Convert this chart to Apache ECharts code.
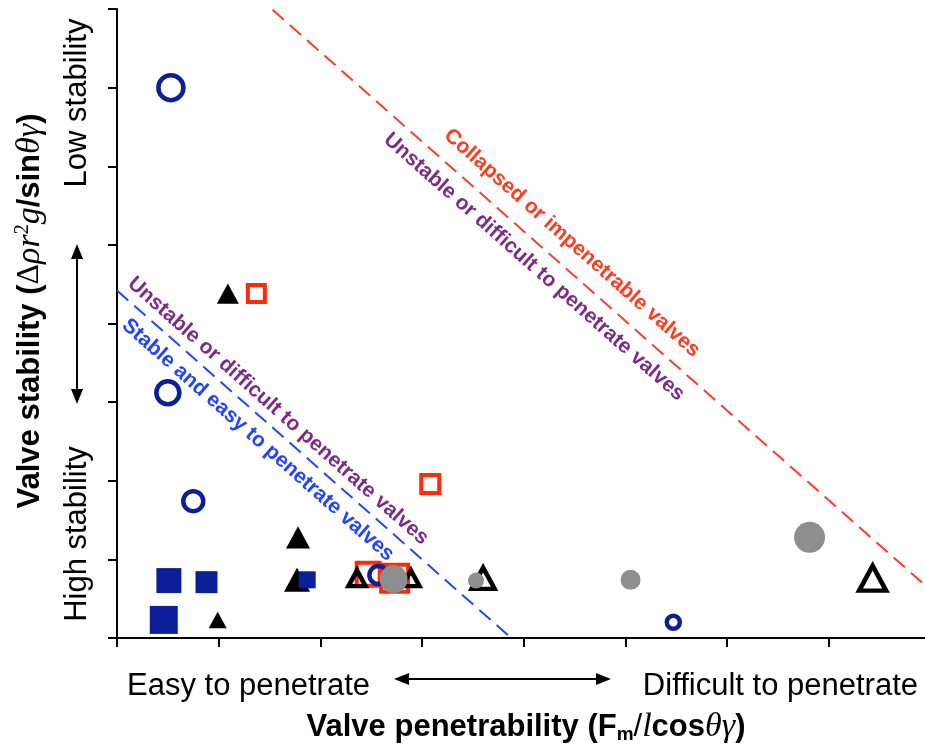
<!DOCTYPE html>
<html>
<head>
<meta charset="utf-8">
<script src="https://cdn.jsdelivr.net/npm/echarts@6/dist/echarts.min.js"></script>
<style>html,body{margin:0;padding:0;background:#fff;}#c{width:925px;height:748px;}</style>
</head>
<body>
<div id="c"></div>
<script>
// ---- data (x = penetrability, y = stability, third value = relative marker size) ----
const blueOpenCircles = [[0.53, 7.00, 25], [0.50, 3.12, 23], [0.75, 1.74, 20], [2.57, 0.80, 18], [5.47, 0.20, 13]];
const blueFilledSquares = [[0.51, 0.73, 25], [0.88, 0.71, 22], [0.46, 0.23, 28], [1.87, 0.74, 17]];
const blackFilledTriangles = [[1.09, 4.38, 22], [1.78, 1.28, 24], [1.77, 0.74, 26], [0.99, 0.23, 18]];
const blackOpenTriangles = [[2.36, 0.76, 17], [2.89, 0.76, 17], [3.60, 0.76, 23], [7.43, 0.76, 27]];
const redOpenSquares = [[1.37, 4.38, 17], [3.08, 1.96, 18], [2.47, 0.81, 23], [2.73, 0.76, 27]];
const grayFilledCircles = [[2.72, 0.75, 28], [3.53, 0.73, 16], [5.05, 0.74, 20], [6.81, 1.28, 31]];
const collapseBoundary = [[1.53, 7.99], [8.00, 0.61]];
const stableBoundary = [[0.00, 4.42], [3.85, 0.03]];
const xAxisTitle = 'Valve penetrability';
const yAxisTitle = 'Valve stability';
const regionLabels = ['Collapsed or impenetrable valves', 'Unstable or difficult to penetrate valves', 'Stable and easy to penetrate valves'];
const xEndLabels = ['Easy to penetrate', 'Difficult to penetrate'];
const yEndLabels = ['Low stability', 'High stability'];

const FONT = "'Liberation Sans', Arial, sans-serif";
const SERIF = "'Liberation Serif', 'DejaVu Serif', serif";
const BLUE = '#0b1f99', RED = '#ff2a08', GRAY = '#8e8e8e';

const chart = echarts.init(document.getElementById('c'), null, {renderer: 'canvas'});

function sq(v) { return v[2]; }
function tri(v) { return [v[2], v[2] * 0.92]; }
function sc(name, data, symbol, sizeFn, itemStyle) {
  return {type: 'scatter', name, data, symbol, symbolSize: sizeFn,
    itemStyle: Object.assign({opacity: 1}, itemStyle),
    silent: true, emphasis: {disabled: true}};
}
function dashed(name, data, color) {
  return {type: 'line', name, data, symbol: 'none', silent: true,
    lineStyle: {color, width: 2, opacity: 1, type: [15, 8]}, emphasis: {disabled: true}};
}
const axisCommon = {
  type: 'value', min: 0, max: 8, interval: 1,
  axisLine: {show: true, lineStyle: {color: '#000', width: 2}},
  axisTick: {show: true, inside: false, length: 9, lineStyle: {color: '#000', width: 2}},
  axisLabel: {show: false}, splitLine: {show: false}
};
const ANG = -41.4 * Math.PI / 180;
function rotLabel(text, x, y, color) {
  return {type: 'text', x, y, rotation: ANG, z: 5,
    style: {text, fill: color, font: 'bold 21px ' + FONT, fontSize: 21, fontWeight: 'bold', fontFamily: FONT,
      align: 'center', verticalAlign: 'middle', textAlign: 'center', textVerticalAlign: 'middle'}};
}
function plainText(text, x, y, align, rotation, bold) {
  return {type: 'text', x, y, rotation: rotation || 0,
    style: {text, fill: '#000', font: (bold ? 'bold ' : '') + '31px ' + FONT, fontSize: 31, fontFamily: FONT,
      fontWeight: bold ? 'bold' : 'normal',
      align, verticalAlign: 'middle', textAlign: align, textVerticalAlign: 'middle'}};
}
const richBase = {
  b: {fontFamily: FONT, fontWeight: 'bold', fontSize: 31, fill: '#000'},
  n: {fontFamily: FONT, fontSize: 31, fill: '#000'},
  d: {fontFamily: SERIF, fontSize: 32, fill: '#000'},
  i: {fontFamily: SERIF, fontStyle: 'italic', fontSize: 34, fill: '#000'},
  sup: {fontFamily: SERIF, fontSize: 20, fill: '#000', verticalAlign: 'top'},
  sub: {fontFamily: FONT, fontWeight: 'bold', fontSize: 19, fill: '#000', verticalAlign: 'bottom'}
};

const option = {
  animation: false,
  backgroundColor: '#fff',
  grid: {left: 117, top: 9, right: -5.6, bottom: 110, containLabel: false, outerBoundsMode: 'none'},
  xAxis: Object.assign({}, axisCommon),
  yAxis: Object.assign({}, axisCommon),
  series: [
    dashed('collapse', collapseBoundary, '#ff3b2b'),
    dashed('stable', stableBoundary, '#2246ff'),
    sc('red', redOpenSquares, 'rect', sq, {color: 'transparent', borderColor: RED, borderWidth: 4}),
    sc('blackFilled', blackFilledTriangles, 'triangle', tri, {color: '#000'}),
    sc('blackOpen', blackOpenTriangles, 'triangle', tri, {color: 'transparent', borderColor: '#000', borderWidth: 4.5}),
    sc('blueSq', blueFilledSquares, 'rect', sq, {color: BLUE}),
    sc('blueCirc', blueOpenCircles, 'circle', sq, {color: 'transparent', borderColor: BLUE, borderWidth: 4.5}),
    sc('gray', grayFilledCircles, 'circle', sq, {color: GRAY})
  ],
  graphic: [
    rotLabel(regionLabels[0], 572, 243, '#ff3b1f'),
    rotLabel(regionLabels[1], 534, 267, '#7a2d86'),
    rotLabel(regionLabels[1], 278, 411, '#7a2d86'),
    rotLabel(regionLabels[2], 258, 440, '#2244ff'),
    plainText(xEndLabels[0], 127, 686, 'left'),
    plainText(xEndLabels[1], 918, 686, 'right'),
    plainText(yEndLabels[0], 77, 103, 'center', Math.PI / 2),
    plainText(yEndLabels[1], 77, 534, 'center', Math.PI / 2),
    {type: 'text', x: 30, y: 311, rotation: Math.PI / 2,
      style: {text: '{b|' + yAxisTitle + ' (}{d|Δ}{i|ρr}{sup|2}{i|g}{b|/sin}{i|θγ}{b|)}', rich: richBase,
        align: 'center', verticalAlign: 'middle', textAlign: 'center', textVerticalAlign: 'middle'}},
    {type: 'text', x: 526, y: 727,
      style: {text: '{b|' + xAxisTitle + ' (F}{sub|m}{n|/}{i|l}{b|cos}{i|θγ}{b|)}', rich: richBase,
        align: 'center', verticalAlign: 'middle', textAlign: 'center', textVerticalAlign: 'middle'}},
    // vertical double arrow
    {type: 'line', shape: {x1: 77, y1: 256, x2: 77, y2: 392}, style: {stroke: '#000', lineWidth: 2}},
    {type: 'polygon', shape: {points: [[77, 244], [71, 259], [83, 259]]}, style: {fill: '#000'}},
    {type: 'polygon', shape: {points: [[77, 404], [71, 389], [83, 389]]}, style: {fill: '#000'}},
    // horizontal double arrow
    {type: 'line', shape: {x1: 406, y1: 679, x2: 599, y2: 679}, style: {stroke: '#000', lineWidth: 2}},
    {type: 'polygon', shape: {points: [[394, 679], [409, 673], [409, 685]]}, style: {fill: '#000'}},
    {type: 'polygon', shape: {points: [[611, 679], [596, 673], [596, 685]]}, style: {fill: '#000'}}
  ]
};
chart.setOption(option);
</script>
</body>
</html>
